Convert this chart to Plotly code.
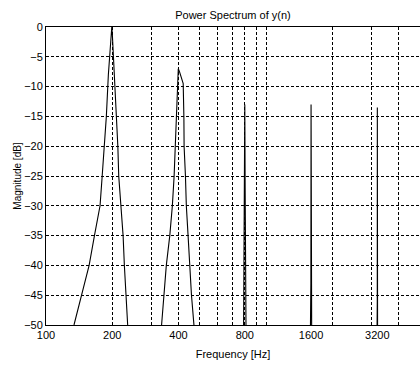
import plotly.graph_objects as go

# Peak around 200 Hz (frequency in Hz, magnitude in dB)
peak1_f = [134, 157, 166, 176, 180, 184, 188, 192, 196, 199, 200, 202, 204, 207, 210, 212, 214, 219, 224, 227, 231, 235]
peak1_db = [-50, -40, -35, -30, -25, -20, -15, -8, -3, 0, -1, -4, -8, -12, -16, -20, -25, -30, -35, -40, -45, -50]

# Peak around 400 Hz
peak2_f = [335, 344, 352, 365, 375, 382, 387, 391, 395, 399, 404, 412, 420, 423, 424, 430, 434, 442, 450, 458, 470]
peak2_db = [-50, -45, -40, -35, -30, -25, -20, -15, -10, -7, -7.5, -8.5, -9.5, -15, -20, -25, -30, -35, -40, -45, -50]

# Narrow spikes (harmonics)
spike800_f = [790, 797, 800, 803, 810]
spike800_db = [-50, -27, -13, -27, -50]
spike1600_f = [1590, 1597, 1600, 1603, 1610]
spike1600_db = [-50, -43, -13, -43, -50]
spike3200_f = [3192, 3198, 3200, 3202, 3208]
spike3200_db = [-50, -46, -13.5, -46, -50]

x_tickvals = [100, 200, 400, 800, 1600, 3200]
x_ticktext = ["100", "200", "400", "800", "1600", "3200"]
x_gridvals = [200, 300, 400, 500, 600, 700, 800, 900, 1000, 2000, 3000, 4000]
y_tickvals = [0, -5, -10, -15, -20, -25, -30, -35, -40, -45, -50]

fig = go.Figure()
for fx, fy in [(peak1_f, peak1_db), (peak2_f, peak2_db), (spike800_f, spike800_db),
               (spike1600_f, spike1600_db), (spike3200_f, spike3200_db)]:
    fig.add_trace(go.Scatter(x=fx, y=fy, mode="lines",
                             line=dict(color="black", width=1.1),
                             showlegend=False, hoverinfo="skip"))

font = "Liberation Sans, Arial, sans-serif"
fig.update_layout(
    width=420, height=366,
    margin=dict(l=46, r=0, t=27, b=41),
    paper_bgcolor="white", plot_bgcolor="white",
    font=dict(family=font, size=11, color="black"),
    title=dict(text="Power Spectrum of y(n)", x=(46 + 420) / 2 / 420, xanchor="center",
               y=1 - 15 / 366, yanchor="middle", font=dict(size=11, family=font, color="black")),
    xaxis=dict(
        type="log", range=[2, 3.699], tickmode="array", tickvals=x_tickvals, ticktext=x_ticktext,
        showgrid=False, showline=True, linecolor="black", linewidth=1, mirror=True,
        ticks="", zeroline=False,
        tickfont=dict(size=11),
        title=dict(text="Frequency [Hz]", standoff=10, font=dict(size=11)),
        minor=dict(tickmode="array", tickvals=x_gridvals, showgrid=True, gridcolor="black",
                   griddash="3px,2px", gridwidth=1, ticks=""),
    ),
    yaxis=dict(
        range=[-50, 0], tickmode="array", tickvals=y_tickvals,
        showgrid=True, gridcolor="black", griddash="3px,2px", gridwidth=1,
        showline=True, linecolor="black", linewidth=1, mirror=True,
        ticks="", zeroline=False, tickfont=dict(size=11),
        title=dict(text="Magnitude [dB]", standoff=0, font=dict(size=10)),
    ),
)

fig.write_html("out.html")
